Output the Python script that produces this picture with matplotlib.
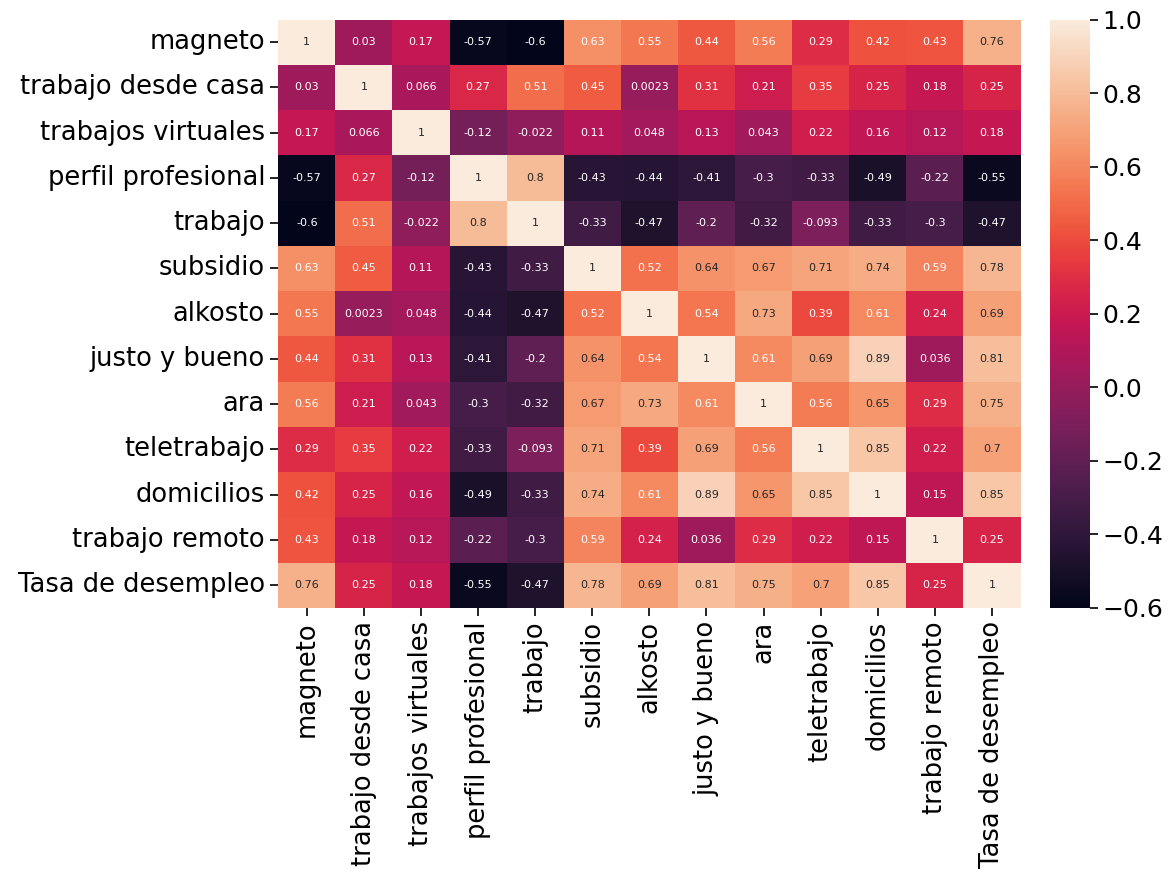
# Correlation heatmap of search terms vs unemployment rate

import numpy as np
import pandas as pd
import seaborn as sns
from matplotlib import pyplot as plt

labels = ['magneto', 'trabajo desde casa', 'trabajos virtuales', 'perfil profesional',
          'trabajo', 'subsidio', 'alkosto', 'justo y bueno', 'ara', 'teletrabajo',
          'domicilios', 'trabajo remoto', 'Tasa de desempleo']

magneto       = [1, 0.03, 0.17, -0.57, -0.6, 0.63, 0.55, 0.44, 0.56, 0.29, 0.42, 0.43, 0.76]
desde_casa    = [0.03, 1, 0.066, 0.27, 0.51, 0.45, 0.0023, 0.31, 0.21, 0.35, 0.25, 0.18, 0.25]
virtuales     = [0.17, 0.066, 1, -0.12, -0.022, 0.11, 0.048, 0.13, 0.043, 0.22, 0.16, 0.12, 0.18]
perfil        = [-0.57, 0.27, -0.12, 1, 0.8, -0.43, -0.44, -0.41, -0.3, -0.33, -0.49, -0.22, -0.55]
trabajo       = [-0.6, 0.51, -0.022, 0.8, 1, -0.33, -0.47, -0.2, -0.32, -0.093, -0.33, -0.3, -0.47]
subsidio      = [0.63, 0.45, 0.11, -0.43, -0.33, 1, 0.52, 0.64, 0.67, 0.71, 0.74, 0.59, 0.78]
alkosto       = [0.55, 0.0023, 0.048, -0.44, -0.47, 0.52, 1, 0.54, 0.73, 0.39, 0.61, 0.24, 0.69]
justo         = [0.44, 0.31, 0.13, -0.41, -0.2, 0.64, 0.54, 1, 0.61, 0.69, 0.89, 0.036, 0.81]
ara           = [0.56, 0.21, 0.043, -0.3, -0.32, 0.67, 0.73, 0.61, 1, 0.56, 0.65, 0.29, 0.75]
teletrabajo   = [0.29, 0.35, 0.22, -0.33, -0.093, 0.71, 0.39, 0.69, 0.56, 1, 0.85, 0.22, 0.7]
domicilios    = [0.42, 0.25, 0.16, -0.49, -0.33, 0.74, 0.61, 0.89, 0.65, 0.85, 1, 0.15, 0.85]
remoto        = [0.43, 0.18, 0.12, -0.22, -0.3, 0.59, 0.24, 0.036, 0.29, 0.22, 0.15, 1, 0.25]
desempleo     = [0.76, 0.25, 0.18, -0.55, -0.47, 0.78, 0.69, 0.81, 0.75, 0.7, 0.85, 0.25, 1]

rows = [magneto, desde_casa, virtuales, perfil, trabajo, subsidio, alkosto,
        justo, ara, teletrabajo, domicilios, remoto, desempleo]
corr = pd.DataFrame(np.array(rows), index=labels, columns=labels)

fig = plt.figure(figsize=(11.69, 8.9), dpi=100)
ax = fig.add_axes([0.238, 0.317, 0.635, 0.661])
cax = fig.add_axes([0.898, 0.317, 0.034, 0.661])

sns.heatmap(corr, annot=True, annot_kws={'size': 8}, ax=ax, cbar_ax=cax,
            vmin=-0.6, vmax=1.0)

ax.tick_params(axis='both', labelsize=18.5, length=6, width=1.2)
ax.set_yticklabels(labels, rotation=0)
ax.set_xticklabels(labels, rotation=90)
cax.tick_params(labelsize=18, length=6, width=1.2)

plt.savefig('out.png', dpi=100)
